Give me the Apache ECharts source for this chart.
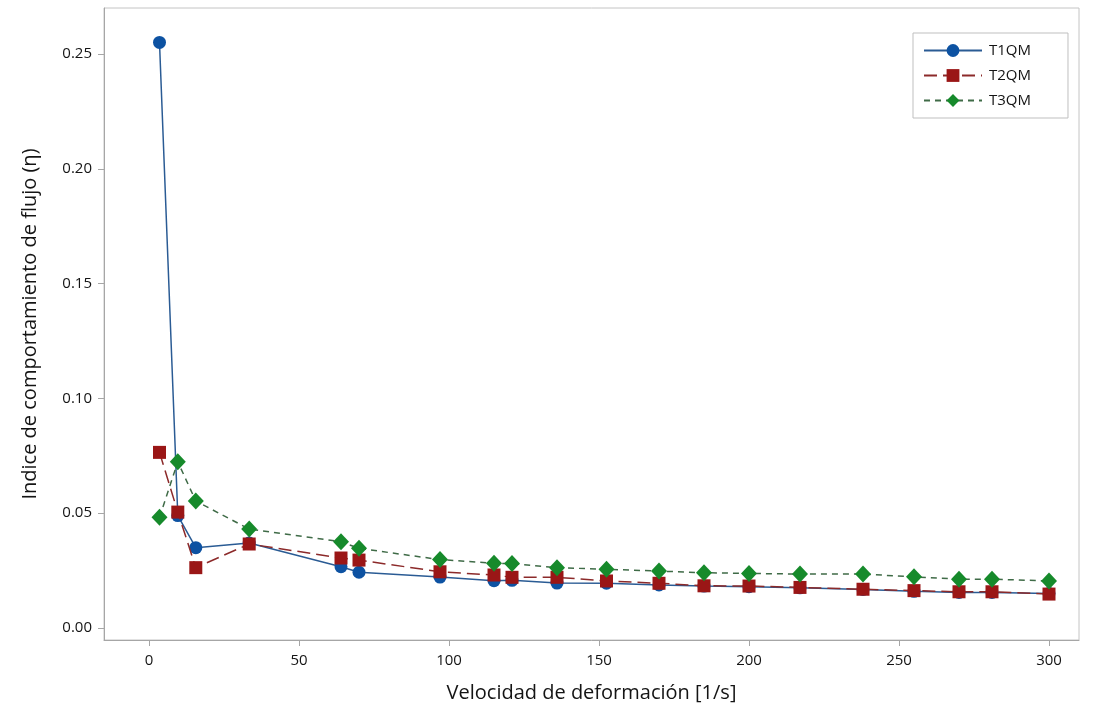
<!DOCTYPE html>
<html>
<head>
<meta charset="utf-8">
<script src="https://cdn.jsdelivr.net/npm/echarts@6/dist/echarts.min.js"></script>
<style>
  html, body { margin: 0; padding: 0; background: #ffffff; }
  #chart { width: 1094px; height: 719px; }
</style>
</head>
<body>
<div id="chart"></div>
<script>
// Shear rate (1/s) shared by the three samples
const shearRate = [3.5, 9.6, 15.6, 33.4, 64, 70, 97, 115, 121, 136, 152.5, 170, 185, 200, 217, 238, 255, 270, 281, 300];

// Flow behaviour index for each sample
const t1qm = [0.255, 0.049, 0.035, 0.037, 0.0267, 0.0243, 0.0222, 0.0206, 0.0208, 0.0196, 0.0195, 0.0188, 0.0183, 0.018, 0.0175, 0.0168, 0.016, 0.0155, 0.0155, 0.015];
const t2qm = [0.0765, 0.0505, 0.0263, 0.0366, 0.0305, 0.0296, 0.0245, 0.0231, 0.0221, 0.0221, 0.0205, 0.0195, 0.0184, 0.0183, 0.0177, 0.0169, 0.0163, 0.0158, 0.0158, 0.0148];
const t3qm = [0.0482, 0.0724, 0.0553, 0.0431, 0.0376, 0.0347, 0.0298, 0.0282, 0.0281, 0.0263, 0.0256, 0.0248, 0.0241, 0.0238, 0.0235, 0.0235, 0.0223, 0.0213, 0.0213, 0.0205];

const seriesNames = ['T1QM', 'T2QM', 'T3QM'];
const xTicks = [0, 50, 100, 150, 200, 250, 300];
const yTicks = [0, 0.05, 0.10, 0.15, 0.20, 0.25];

const pairs = ys => shearRate.map((x, i) => [x, ys[i]]);
const FONT = '"Open Sans", "Noto Sans", sans-serif';
const AXIS_GRAY = '#a6a6a6';
const TEXT = '#141414';

const chart = echarts.init(document.getElementById('chart'));
chart.setOption({
  backgroundColor: '#ffffff',
  animation: false,
  textStyle: { fontFamily: FONT },
  grid: {
    left: 104, top: 8, width: 975, height: 632,
    show: true, borderColor: '#c4c4c4', borderWidth: 1, backgroundColor: 'transparent'
  },
  legend: {
    data: seriesNames,
    orient: 'vertical',
    left: 913, top: 33,
    padding: [10, 37, 10, 10],
    itemGap: 10,
    itemWidth: 58,
    itemHeight: 16,
    borderColor: '#bfbfbf',
    borderWidth: 1,
    textStyle: { fontFamily: FONT, fontSize: 15, color: TEXT, padding: [0, 0, 0, 2] }
  },
  xAxis: {
    type: 'value',
    min: -15, max: 310,
    name: 'Velocidad de deformación [1/s]',
    nameLocation: 'middle',
    nameGap: 43,
    nameTextStyle: { fontFamily: FONT, fontSize: 20, color: TEXT },
    axisLine: { show: true, onZero: false, lineStyle: { color: AXIS_GRAY, width: 1 } },
    axisTick: { show: true, length: 6, lineStyle: { color: AXIS_GRAY }, customValues: xTicks },
    axisLabel: { customValues: xTicks, margin: 13, fontFamily: FONT, fontSize: 15, color: TEXT },
    splitLine: { show: false }
  },
  yAxis: {
    type: 'value',
    min: -0.0052, max: 0.27,
    name: 'Indice de comportamiento de flujo (η)',
    nameLocation: 'middle',
    nameGap: 64,
    nameTextStyle: { fontFamily: FONT, fontSize: 20, color: TEXT },
    axisLine: { show: true, onZero: false, lineStyle: { color: AXIS_GRAY, width: 1 } },
    axisTick: { show: true, length: 6, lineStyle: { color: AXIS_GRAY }, customValues: yTicks },
    axisLabel: {
      customValues: yTicks, margin: 12, fontFamily: FONT, fontSize: 15, color: TEXT,
      formatter: v => v.toFixed(2)
    },
    splitLine: { show: false }
  },
  series: [
    {
      name: 'T1QM', type: 'line', data: pairs(t1qm),
      symbol: 'circle', symbolSize: 13, z: 3,
      itemStyle: { color: '#0d52a2' },
      lineStyle: { color: '#2a5b94', width: 1.5, type: 'solid' }
    },
    {
      name: 'T2QM', type: 'line', data: pairs(t2qm),
      symbol: 'rect', symbolSize: 13, z: 4,
      itemStyle: { color: '#9a1616' },
      lineStyle: { color: '#8c2a2a', width: 1.5, type: [13, 6] }
    },
    {
      name: 'T3QM', type: 'line', data: pairs(t3qm),
      symbol: 'diamond', symbolSize: [16, 17], z: 5,
      itemStyle: { color: '#168a2b' },
      lineStyle: { color: '#3f6b47', width: 1.5, type: [6, 5] }
    }
  ]
});
</script>
</body>
</html>
